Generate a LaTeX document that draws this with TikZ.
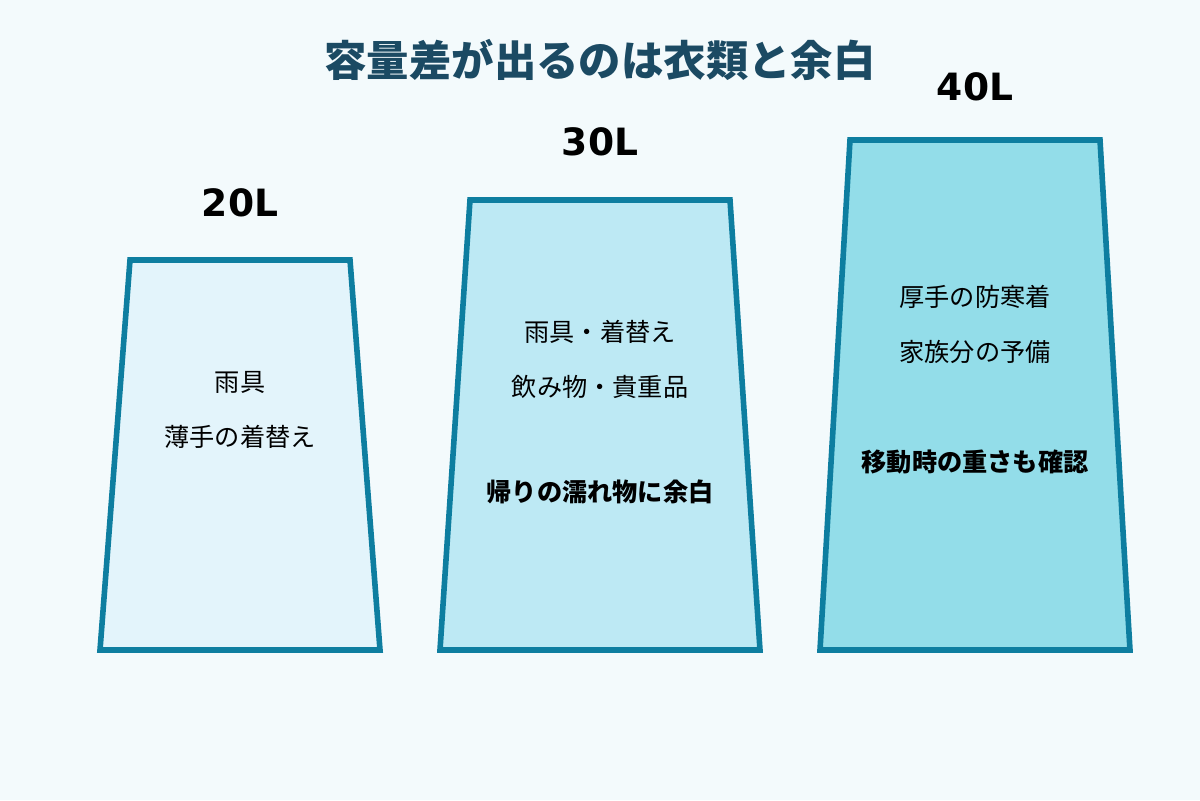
\documentclass[tikz,border=0pt]{standalone}
\usepackage{fontspec}
\setmainfont{DejaVu Sans}
\newfontfamily\cjk{Noto Sans CJK JP}
\definecolor{bg}{HTML}{F3FAFC}
\definecolor{edge}{HTML}{0E7EA0}
\definecolor{fa}{HTML}{E3F4FB}
\definecolor{fb}{HTML}{BDE9F4}
\definecolor{fc}{HTML}{93DDE9}
\definecolor{ttl}{HTML}{1B4A63}
\begin{document}
\begin{tikzpicture}[x=0.5pt,y=-0.5pt,
 bag/.style={draw=edge,line width=2.8pt,line join=miter},
 vol/.style={font=\bfseries\fontsize{18.8}{20}\selectfont},
 txt/.style={font=\cjk\fontsize{12.6}{14}\selectfont},
 btxt/.style={font=\cjk\bfseries\fontsize{12.6}{14}\selectfont}]
\fill[bg] (0,0) rectangle (1200,800);
\useasboundingbox (0,0) rectangle (1200,800);
\node[font=\cjk\bfseries\fontsize{21.2}{23}\selectfont,text=ttl] (title) at (600,60) {容量差が出るのは衣類と余白};
\draw[bag,fill=fa] (130,260)--(350,260)--(380,650)--(100,650)--cycle;
\draw[bag,fill=fb] (470,200)--(730,200)--(760,650)--(440,650)--cycle;
\draw[bag,fill=fc] (850,140)--(1100,140)--(1130,650)--(820,650)--cycle;
\node[vol] (l1) at (240,203) {20L};
\node[vol] (l2) at (600,142) {30L};
\node[vol] (l3) at (975,87) {40L};
\node[txt] (a1) at (240,382) {雨具};
\node[txt] (a2) at (240,437) {薄手の着替え};
\node[txt] (b1) at (600,332) {雨具・着替え};
\node[txt] (b2) at (600,387) {飲み物・貴重品};
\node[btxt] (b3) at (600,492) {帰りの濡れ物に余白};
\node[txt] (c1) at (975,297) {厚手の防寒着};
\node[txt] (c2) at (975,352) {家族分の予備};
\node[btxt] (c3) at (975,462) {移動時の重さも確認};
\end{tikzpicture}
\end{document}
